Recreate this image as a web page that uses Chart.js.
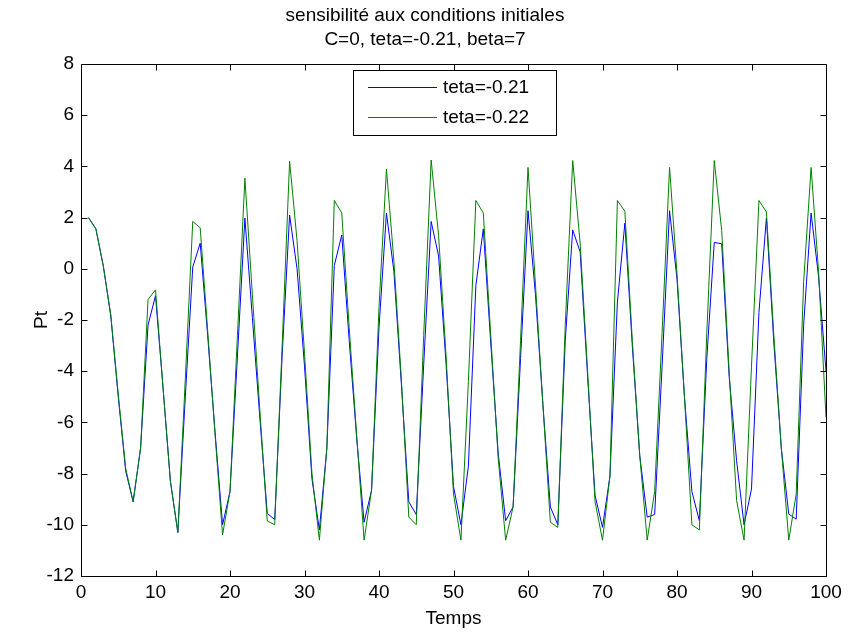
<!DOCTYPE html>
<html lang="fr">
<head>
<meta charset="utf-8">
<title>sensibilité aux conditions initiales</title>
<script src="https://cdn.jsdelivr.net/npm/chart.js@4.4.1/dist/chart.umd.min.js"></script>
<style>
  html, body { margin: 0; padding: 0; background: #fff; }
  #chart { display: block; }
</style>
</head>
<body>
<canvas id="chart" width="848" height="633"></canvas>
<script>
(function () {
  "use strict";

  // Temps (x values)
  const temps = [
    1, 2, 3, 4, 5, 6, 7, 8, 9, 10, 11, 12, 13, 14, 15, 16, 17, 18, 19, 20,
    21, 22, 23, 24, 25, 26, 27, 28, 29, 30, 31, 32, 33, 34, 35, 36, 37, 38, 39, 40,
    41, 42, 43, 44, 45, 46, 47, 48, 49, 50, 51, 52, 53, 54, 55, 56, 57, 58, 59, 60,
    61, 62, 63, 64, 65, 66, 67, 68, 69, 70, 71, 72, 73, 74, 75, 76, 77, 78, 79, 80,
    81, 82, 83, 84, 85, 86, 87, 88, 89, 90, 91, 92, 93, 94, 95, 96, 97, 98, 99, 100
  ];

  // Pt for teta=-0.21 (blue)
  const ptTeta021 = [
    2.0, 1.56, 0.1, -1.85, -5.0, -7.9, -9.1, -7.0, -2.2, -1.05,
    -4.6, -8.3, -10.3, -5.0, 0.07, 1.0, -2.6, -6.4, -10.0, -8.7,
    -3.4, 1.98, -1.9, -5.8, -9.55, -9.8, -3.4, 2.1, 0.0, -3.8,
    -8.2, -10.2, -7.0, 0.13, 1.32, -2.8, -6.6, -9.9, -8.65, -2.3,
    2.18, -0.1, -4.5, -9.1, -9.6, -3.75, 1.85, 0.5, -3.7, -8.5,
    -10.0, -7.7, -0.66, 1.56, -2.9, -7.2, -9.84, -9.3, -3.5, 2.27,
    -1.0, -5.3, -9.3, -10.0, -2.8, 1.52, 0.66, -4.2, -8.85, -10.1,
    -8.1, -1.3, 1.78, -3.0, -7.3, -9.7, -9.6, -3.8, 2.27, -0.4,
    -5.0, -8.7, -9.84, -3.5, 1.03, 0.98, -4.2, -7.5, -10.0, -8.6,
    -1.7, 1.98, -2.9, -7.0, -9.58, -9.78, -2.2, 2.18, -0.3, -4.0
  ];

  // Pt for teta=-0.22 (green)
  const ptTeta022 = [
    2.0, 1.56, 0.1, -1.8, -4.9, -7.8, -9.1, -7.0, -1.2, -0.82,
    -4.6, -8.3, -10.3, -4.3, 1.85, 1.6, -2.4, -6.5, -10.4, -8.7,
    -2.6, 3.54, -1.0, -5.5, -9.85, -10.0, -3.0, 4.2, 1.1, -3.3,
    -8.0, -10.6, -7.0, 2.67, 2.18, -2.3, -6.5, -10.6, -8.65, -1.5,
    3.9, 0.3, -4.3, -9.7, -10.0, -2.6, 4.25, 1.3, -3.4, -8.8,
    -10.6, -4.4, 2.67, 2.18, -2.6, -7.4, -10.6, -9.3, -2.8, 3.96,
    -0.6, -5.3, -9.9, -10.1, -2.2, 4.23, 1.0, -4.0, -9.1, -10.6,
    -8.1, 2.67, 2.25, -2.8, -7.3, -10.6, -8.7, -2.5, 3.96, -0.2,
    -5.0, -10.0, -10.2, -2.5, 4.23, 1.5, -4.0, -9.05, -10.6, -3.8,
    2.67, 2.22, -2.6, -7.0, -10.6, -8.8, -0.5, 3.96, -0.1, -5.8
  ];

  const xTicks = [0, 10, 20, 30, 40, 50, 60, 70, 80, 90, 100];
  const yTicks = [-12, -10, -8, -6, -4, -2, 0, 2, 4, 6, 8];
  const seriesLabels = ["teta=-0.21", "teta=-0.22"];
  const titleLines = ["sensibilité aux conditions initiales", "C=0, teta=-0.21, beta=7"];

  const FONT = "'Liberation Sans', Arial, Helvetica, sans-serif";
  const FONT_SIZE = 19;
  const TICK_LEN = 6;

  function toTicks(values) {
    return values.map(function (v) {
      return { value: v };
    });
  }

  // two-line title, centred on the figure like the MATLAB original
  const figureTitle = {
    id: "figureTitle",
    afterDraw(chart) {
      const ctx = chart.ctx;
      ctx.save();
      ctx.fillStyle = "#000";
      ctx.font = FONT_SIZE + "px " + FONT;
      ctx.textAlign = "center";
      ctx.textBaseline = "middle";
      titleLines.forEach(function (line, i) {
        ctx.fillText(line, chart.width / 2 + 1, 15.5 + i * 24);
      });
      ctx.restore();
    }
  };

  // MATLAB-like box with inward ticks on all sides, plus the legend box
  const axesFrame = {
    id: "axesFrame",
    afterDatasetsDraw(chart) {
      const ctx = chart.ctx;
      const a = chart.chartArea;
      const xs = chart.scales.x;
      const ys = chart.scales.y;
      const left = Math.round(a.left) + 0.5;
      const right = Math.round(a.right) + 0.5;
      const top = Math.round(a.top) + 0.5;
      const bottom = Math.round(a.bottom) + 0.5;

      ctx.save();
      ctx.strokeStyle = "#000";
      ctx.lineWidth = 1;
      ctx.beginPath();
      ctx.rect(left, top, right - left, bottom - top);
      xs.ticks.forEach(function (t) {
        const px = Math.round(xs.getPixelForValue(t.value)) + 0.5;
        ctx.moveTo(px, bottom);
        ctx.lineTo(px, bottom - TICK_LEN);
        ctx.moveTo(px, top);
        ctx.lineTo(px, top + TICK_LEN);
      });
      ys.ticks.forEach(function (t) {
        const py = Math.round(ys.getPixelForValue(t.value)) + 0.5;
        ctx.moveTo(left, py);
        ctx.lineTo(left + TICK_LEN, py);
        ctx.moveTo(right, py);
        ctx.lineTo(right - TICK_LEN, py);
      });
      ctx.stroke();

      // legend
      const box = { x: 353.5, y: 70.5, w: 203, h: 65 };
      ctx.fillStyle = "#fff";
      ctx.fillRect(box.x, box.y, box.w, box.h);
      ctx.strokeRect(box.x, box.y, box.w, box.h);
      ctx.font = FONT_SIZE + "px " + FONT;
      ctx.textBaseline = "middle";
      ctx.textAlign = "left";
      chart.data.datasets.forEach(function (ds, i) {
        const ly = box.y + 17 + i * 30;
        ctx.strokeStyle = ds.borderColor;
        ctx.beginPath();
        ctx.moveTo(368, ly);
        ctx.lineTo(437, ly);
        ctx.stroke();
        ctx.fillStyle = "#000";
        ctx.fillText(ds.label, 443, ly);
      });
      ctx.restore();
    }
  };

  function init() {
    const canvas = document.getElementById("chart");
    new Chart(canvas, {
      type: "line",
      data: {
        labels: temps,
        datasets: [
          {
            label: seriesLabels[0],
            data: ptTeta021,
            borderColor: "#0000ff",
            borderWidth: 1,
            pointRadius: 0,
            tension: 0,
            fill: false,
            order: 2
          },
          {
            label: seriesLabels[1],
            data: ptTeta022,
            borderColor: "#008000",
            borderWidth: 1,
            pointRadius: 0,
            tension: 0,
            fill: false,
            order: 1
          }
        ]
      },
      options: {
        responsive: false,
        animation: false,
        layout: { padding: { left: 0, right: 22, top: 64, bottom: 0 } },
        plugins: {
          legend: { display: false },
          tooltip: { enabled: false },
          title: { display: false }
        },
        scales: {
          x: {
            type: "linear",
            min: 0,
            max: 100,
            afterBuildTicks: function (s) { s.ticks = toTicks(xTicks); },
            afterFit: function (s) { s.height = 57; },
            grid: { display: false, drawTicks: false },
            border: { display: false },
            ticks: {
              color: "#000",
              padding: 5,
              maxRotation: 0,
              font: { family: FONT, size: FONT_SIZE }
            },
            title: {
              display: true,
              text: "Temps",
              color: "#000",
              font: { family: FONT, size: FONT_SIZE },
              padding: { top: 0, bottom: 3 }
            }
          },
          y: {
            min: -12,
            max: 8,
            afterBuildTicks: function (s) { s.ticks = toTicks(yTicks); },
            afterFit: function (s) { s.width = 81; },
            grid: { display: false, drawTicks: false },
            border: { display: false },
            ticks: {
              color: "#000",
              padding: 7,
              font: { family: FONT, size: FONT_SIZE }
            },
            title: {
              display: true,
              text: "Pt",
              color: "#000",
              font: { family: FONT, size: FONT_SIZE },
              padding: { top: 30, bottom: 0 }
            }
          }
        }
      },
      plugins: [axesFrame, figureTitle]
    });
  }

  init();
})();
</script>
</body>
</html>
